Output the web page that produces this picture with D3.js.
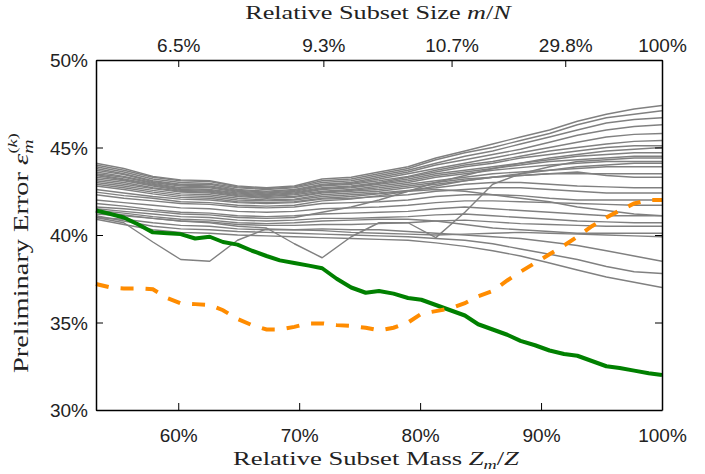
<!DOCTYPE html>
<html lang="en">
  <head>
    <meta charset="utf-8">
    <title>Preliminary error vs relative subset mass</title>
    <script type="text/javascript" src="https://cdn.jsdelivr.net/npm/d3@7"></script>
    <style>
      body { margin: 0; background: #fff; }
      .axis path, .axis line { stroke: #000; }
      .axis path { stroke-width: 1.5px; }
      .gray { fill: none; stroke: #808080; stroke-width: 1.4px; stroke-linejoin: round; }
    </style>
  </head>
  <body>
    <script type="text/javascript">
      // x is the relative subset mass Z_m/Z in percent
      var massTicks = [60, 70, 80, 90, 100];
      var sizeTickMass = [60, 72.0, 82.6, 92.0, 100];
      var sizeLabels = ["6.5%", "9.3%", "10.7%", "29.8%", "100%"];
      var yTicks = [30, 35, 40, 45, 50];

      var fineMass = [53.2, 54.4, 55.5, 56.7, 57.9, 59.1, 60.2, 61.4, 62.6, 63.7, 64.9,
                      66.1, 67.3, 68.4, 69.6, 70.8, 71.9, 73.1, 74.3, 75.5, 76.6,
                      77.8, 79.0, 80.1, 81.3, 82.5, 83.7, 84.8, 86.0, 87.2, 88.3,
                      89.5, 90.7, 91.9, 93.0, 94.2, 95.4, 96.5, 97.7, 98.9, 100];
      var grayMass = [53.2, 55.5, 57.9, 60.2, 62.6, 64.9, 67.3, 69.6, 71.9, 74.3, 76.6,
                      79.0, 81.3, 83.7, 86.0, 88.3, 90.7, 93.0, 95.4, 97.7, 100];

      var greenValues = [41.4, 41.2, 41.0, 40.6, 40.15, 40.1, 40.05, 39.8, 39.9, 39.6, 39.45,
                         39.1, 38.8, 38.55, 38.4, 38.25, 38.1, 37.5, 37.0, 36.7, 36.8,
                         36.65, 36.4, 36.3, 36.0, 35.7, 35.4, 34.9, 34.6, 34.3, 33.95,
                         33.7, 33.4, 33.2, 33.1, 32.8, 32.5, 32.4, 32.25, 32.1, 32.0];

      var orangeValues = [37.2, 37.0, 36.95, 36.95, 36.9, 36.4, 36.1, 36.05, 36.0, 35.7, 35.2,
                          34.85, 34.6, 34.6, 34.75, 34.95, 34.95, 34.85, 34.8, 34.7, 34.55,
                          34.7, 35.0, 35.5, 35.65, 35.8, 36.1, 36.5, 36.8, 37.4, 37.9,
                          38.4, 38.9, 39.4, 39.9, 40.5, 41.0, 41.4, 41.8, 42.0, 42.0];

      var grayLines = [
        [44.1, 43.8, 43.35, 43.15, 43.1, 42.8, 42.7, 42.8, 43.2, 43.3, 43.6, 43.9, 44.4, 44.8, 45.2, 45.6, 46.0, 46.5, 46.9, 47.2, 47.4],
        [44.0, 43.7, 43.3, 43.1, 43.05, 42.75, 42.65, 42.75, 43.1, 43.2, 43.5, 43.8, 44.3, 44.7, 45.0, 45.4, 45.8, 46.3, 46.7, 46.9, 47.1],
        [43.9, 43.6, 43.2, 43.0, 42.95, 42.7, 42.6, 42.7, 43.0, 43.1, 43.4, 43.7, 44.1, 44.5, 44.8, 45.2, 45.6, 46.0, 46.4, 46.6, 46.7],
        [43.8, 43.5, 43.1, 42.9, 42.9, 42.6, 42.5, 42.6, 42.9, 43.0, 43.3, 43.6, 44.0, 44.3, 44.6, 44.9, 45.3, 45.7, 46.0, 46.2, 46.3],
        [43.7, 43.45, 43.05, 42.85, 42.8, 42.55, 42.45, 42.55, 42.85, 42.95, 43.2, 43.5, 43.8, 44.1, 44.4, 44.7, 45.0, 45.3, 45.6, 45.75, 45.8],
        [43.6, 43.35, 43.0, 42.8, 42.75, 42.5, 42.4, 42.5, 42.8, 42.9, 43.1, 43.35, 43.7, 44.0, 44.2, 44.5, 44.8, 45.0, 45.2, 45.35, 45.4],
        [43.5, 43.3, 42.95, 42.7, 42.7, 42.45, 42.35, 42.45, 42.7, 42.8, 43.0, 43.3, 43.6, 43.9, 44.1, 44.4, 44.6, 44.8, 45.0, 45.1, 45.1],
        [43.45, 43.2, 42.9, 42.65, 42.6, 42.4, 42.3, 42.4, 42.65, 42.75, 42.95, 43.2, 43.5, 43.7, 43.9, 44.1, 44.3, 44.5, 44.6, 44.7, 44.7],
        [43.4, 43.15, 42.85, 42.6, 42.55, 42.35, 42.25, 42.35, 42.6, 42.7, 42.9, 43.1, 43.4, 43.6, 43.8, 44.0, 44.2, 44.3, 44.4, 44.5, 44.5],
        [43.3, 43.1, 42.8, 42.55, 42.5, 42.3, 42.2, 42.3, 42.5, 42.6, 42.8, 43.0, 43.3, 43.5, 43.7, 43.85, 44.0, 44.1, 44.2, 44.2, 44.2],
        [43.2, 43.0, 42.7, 42.5, 42.45, 42.25, 42.15, 42.2, 42.45, 42.55, 42.7, 42.9, 43.1, 43.3, 43.5, 43.6, 43.7, 43.8, 43.9, 43.9, 43.9],
        [43.1, 42.9, 42.65, 42.45, 42.4, 42.2, 42.1, 42.15, 42.4, 42.5, 42.6, 42.8, 43.0, 43.2, 43.3, 43.4, 43.5, 43.5, 43.5, 43.5, 43.5],
        [43.0, 42.8, 42.55, 42.35, 42.3, 42.1, 42.0, 42.05, 42.3, 42.4, 42.5, 42.7, 42.9, 43.1, 43.3, 43.4, 43.5, 43.6, 43.4, 43.3, 43.3],
        [42.9, 42.7, 42.45, 42.25, 42.2, 42.0, 41.95, 42.0, 42.2, 42.3, 42.4, 42.55, 42.7, 42.9, 43.0, 43.0, 42.9, 42.8, 42.75, 42.7, 42.7],
        [42.8, 42.6, 42.35, 42.15, 42.1, 41.9, 41.85, 41.9, 42.1, 42.2, 42.35, 42.5, 42.6, 42.5, 42.3, 42.1, 41.9, 41.6, 41.4, 41.2, 41.1],
        [42.6, 42.4, 42.2, 42.05, 42.0, 41.85, 41.8, 41.85, 42.05, 42.1, 42.2, 42.3, 42.5, 42.6, 42.7, 42.7, 42.6, 42.5, 42.4, 42.4, 42.4],
        [42.45, 42.25, 42.1, 41.9, 41.85, 41.7, 41.65, 41.7, 41.95, 42.05, 42.25, 42.5, 42.8, 43.1, 43.3, 43.5, 43.7, 43.9, 44.0, 44.1, 44.1],
        [42.3, 42.1, 41.95, 41.8, 41.75, 41.6, 41.55, 41.6, 41.8, 41.85, 41.9, 42.0, 42.2, 42.3, 42.3, 42.25, 42.1, 42.0, 42.0, 42.0, 42.0],
        [42.0, 41.85, 41.7, 41.55, 41.5, 41.35, 41.3, 41.35, 41.5, 41.55, 41.6, 41.7, 41.85, 41.95, 41.95, 41.9, 41.85, 41.8, 41.75, 41.7, 41.7],
        [41.8, 41.65, 41.45, 41.3, 41.25, 41.1, 41.05, 41.1, 41.2, 41.25, 41.3, 41.35, 41.5, 41.6, 41.5, 41.4, 41.3, 41.2, 41.1, 41.1, 41.1],
        [41.6, 41.5, 41.35, 41.2, 41.15, 41.0, 40.95, 41.0, 41.3, 41.6, 42.0, 42.5, 43.0, 43.4, 43.8, 44.1, 44.4, 44.6, 44.8, 44.9, 45.0],
        [41.5, 41.35, 41.2, 41.05, 41.0, 40.85, 40.8, 40.85, 40.95, 40.95, 41.0, 41.05, 41.15, 41.2, 41.1, 41.0, 40.9, 40.8, 40.75, 40.7, 40.7],
        [41.4, 41.25, 41.05, 40.9, 40.85, 40.7, 40.65, 40.7, 40.8, 40.85, 40.9, 40.9, 40.8, 40.6, 40.4, 40.3, 40.2, 40.1, 40.1, 40.1, 40.1],
        [41.3, 41.15, 40.95, 40.8, 40.7, 40.5, 40.4, 39.5, 38.7, 39.9, 40.7, 40.7, 39.85, 41.3, 42.9, 43.5, 43.9, 44.2, 44.3, 44.4, 44.4],
        [41.2, 41.1, 40.95, 40.8, 40.75, 40.6, 40.55, 40.55, 40.6, 40.6, 40.65, 40.7, 40.8, 40.85, 40.75, 40.65, 40.6, 40.55, 40.5, 40.5, 40.5],
        [41.0, 40.7, 39.6, 38.6, 38.5, 39.7, 40.35, 40.3, 40.25, 40.15, 40.1, 40.05, 40.0, 40.05, 40.1, 40.15, 40.1, 40.05, 40.0, 39.95, 39.9],
        [41.0, 40.9, 40.7, 40.55, 40.5, 40.35, 40.3, 40.3, 40.35, 40.3, 40.3, 40.2, 40.1, 40.0, 39.9, 39.8, 39.6, 39.4, 39.1, 38.8, 38.5],
        [41.1, 40.8, 40.5, 40.35, 40.3, 40.2, 40.15, 40.1, 40.05, 40.0, 39.95, 39.9, 39.8, 39.7, 39.5, 39.2, 38.9, 38.6, 38.2, 37.9, 37.8],
        [40.9, 40.6, 40.3, 40.15, 40.1, 40.0, 39.95, 39.9, 39.85, 39.8, 39.75, 39.7, 39.55, 39.35, 39.1, 38.8, 38.4, 38.0, 37.6, 37.3, 37.0]
      ];

      var w = 705;
      var h = 474;
      var tickFont = "'Liberation Sans', Arial, Helvetica, sans-serif";
      var titleFont = "'Liberation Serif', 'Times New Roman', serif";

      var svg = d3.select("body").append("svg")
                  .attr("width", w)
                  .attr("height", h);

      var x = d3.scaleLinear().domain([53.2, 100]).range([96, 662]);
      var y = d3.scaleLinear().domain([30, 50]).range([410, 60]);

      // series
      var grayLine = d3.line()
                       .x(function(d, i) { return x(grayMass[i]); })
                       .y(function(d) { return y(d); });
      var fineLine = d3.line()
                       .x(function(d, i) { return x(fineMass[i]); })
                       .y(function(d) { return y(d); });

      svg.append("g")
         .selectAll("path")
         .data(grayLines)
         .enter()
         .append("path")
         .attr("class", "gray")
         .attr("d", grayLine);

      svg.append("path")
         .datum(greenValues)
         .attr("d", fineLine)
         .attr("fill", "none")
         .attr("stroke", "#008000")
         .attr("stroke-width", 4)
         .attr("stroke-linejoin", "round");

      svg.append("path")
         .datum(orangeValues)
         .attr("d", fineLine)
         .attr("fill", "none")
         .attr("stroke", "#ff8c00")
         .attr("stroke-width", 4)
         .attr("stroke-dasharray", "13,12");

      // axes, ticks pointing inward
      var bottomAxis = svg.append("g")
         .attr("class", "axis")
         .attr("transform", "translate(0,410)")
         .call(d3.axisBottom(x).tickValues(massTicks)
               .tickFormat(function(d) { return d + "%"; })
               .tickSizeInner(-7).tickSizeOuter(0).tickPadding(19));

      var topAxis = svg.append("g")
         .attr("class", "axis")
         .attr("transform", "translate(0,60)")
         .call(d3.axisTop(x).tickValues(sizeTickMass)
               .tickFormat(function(d, i) { return sizeLabels[i]; })
               .tickSizeInner(-7).tickSizeOuter(0).tickPadding(8));

      var leftAxis = svg.append("g")
         .attr("class", "axis")
         .attr("transform", "translate(96,0)")
         .call(d3.axisLeft(y).tickValues(yTicks)
               .tickFormat(function(d) { return d + "%"; })
               .tickSizeInner(-7).tickSizeOuter(0).tickPadding(8));

      svg.append("g")
         .attr("class", "axis")
         .attr("transform", "translate(662,0)")
         .call(d3.axisRight(y).tickValues(yTicks)
               .tickFormat("")
               .tickSizeInner(-7).tickSizeOuter(0));

      [bottomAxis, topAxis, leftAxis].forEach(function(g) {
        g.attr("font-size", 19).attr("font-family", tickFont);
        g.selectAll(".tick text").attr("fill", "#222");
      });
      leftAxis.selectAll(".tick text").attr("dy", "0.36em");

      // titles (serif, drawn wider like the TeX font of the original)
      var topTitle = svg.append("text")
         .attr("transform", "translate(378,19) scale(1.38,1)")
         .attr("text-anchor", "middle")
         .attr("font-family", titleFont)
         .attr("font-size", 19)
         .attr("fill", "#222");
      topTitle.append("tspan").text("Relative Subset Size ");
      topTitle.append("tspan").attr("font-style", "italic").text("m");
      topTitle.append("tspan").text("/");
      topTitle.append("tspan").attr("font-style", "italic").text("N");

      var bottomTitle = svg.append("text")
         .attr("transform", "translate(376,465) scale(1.4,1)")
         .attr("text-anchor", "middle")
         .attr("font-family", titleFont)
         .attr("font-size", 19)
         .attr("fill", "#222");
      bottomTitle.append("tspan").text("Relative Subset Mass ");
      bottomTitle.append("tspan").attr("font-style", "italic").text("Z");
      bottomTitle.append("tspan").attr("font-style", "italic").attr("font-size", 13).attr("dy", 4).text("m");
      bottomTitle.append("tspan").attr("dy", -4).text("/");
      bottomTitle.append("tspan").attr("font-style", "italic").text("Z");

      var yTitle = svg.append("text")
         .attr("transform", "translate(28,253) rotate(-90) scale(1.42,1)")
         .attr("text-anchor", "middle")
         .attr("font-family", titleFont)
         .attr("font-size", 20)
         .attr("fill", "#222");
      yTitle.append("tspan").text("Preliminary Error ");
      yTitle.append("tspan").attr("font-style", "italic").text("\u03b5");
      yTitle.append("tspan").attr("font-style", "italic").attr("font-size", 14).attr("dy", 5).text("m");
      yTitle.append("tspan").attr("font-size", 13).attr("dx", -10).attr("dy", -16).text("(");
      yTitle.append("tspan").attr("font-size", 13).attr("font-style", "italic").text("k");
      yTitle.append("tspan").attr("font-size", 13).text(")");
    </script>
  </body>
</html>
